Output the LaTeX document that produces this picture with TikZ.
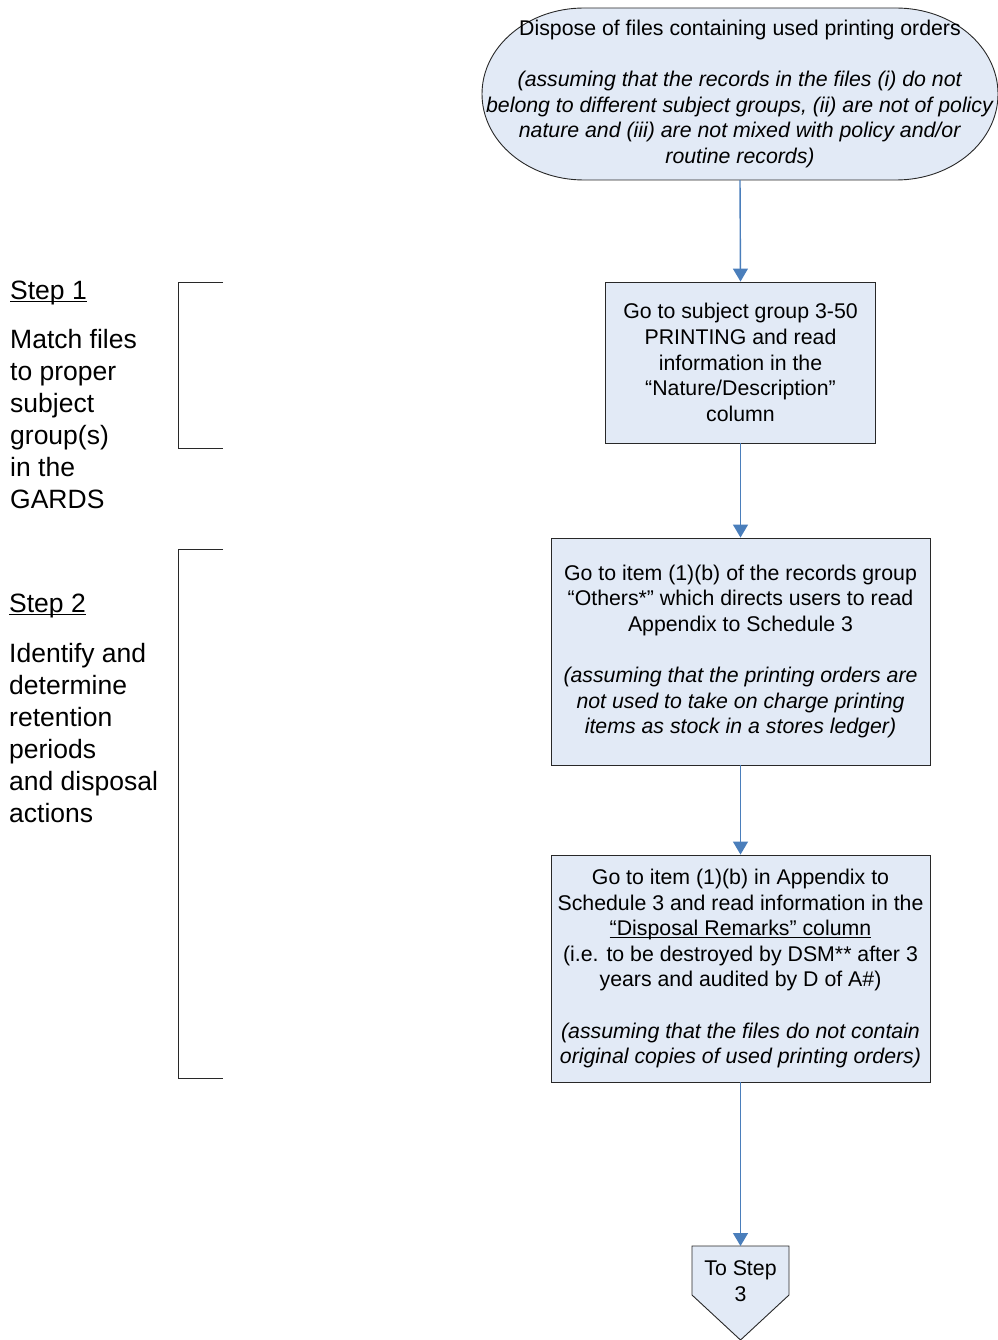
\documentclass[tikz,border=0pt]{standalone}
\usepackage{fontspec}
\setmainfont{Liberation Sans}
\usetikzlibrary{arrows.meta}
\definecolor{boxfill}{RGB}{226,234,246}
\definecolor{arrowblue}{RGB}{74,126,187}
\definecolor{edgecol}{RGB}{40,40,40}
\newcommand\myul[2]{\setbox0\hbox{#2}\rlap{\rule[-#1]{\wd0}{1.1pt}}\box0}
\begin{document}
\begin{tikzpicture}[x=1pt,y=1pt,
  box/.style={draw=edgecol, line width=0.9pt, fill=boxfill, align=center, inner sep=0pt,
    font=\fontsize{21.3}{25.6}\selectfont},
  flow/.style={draw=arrowblue, line width=1.4pt, -{Triangle[width=15pt,length=13pt]}},
  bracketline/.style={draw=edgecol, line width=1pt},
  side/.style={align=left, anchor=base west, inner sep=0pt, font=\fontsize{26.5}{32}\selectfont}]
\useasboundingbox (0,0) rectangle (997,-1340);

% start terminator
\path[draw=edgecol, line width=0.9pt, fill=boxfill]
  (584,-8) -- (896,-8)
  arc[start angle=90, end angle=-90, x radius=102, y radius=86]
  -- (584,-180)
  arc[start angle=270, end angle=90, x radius=102, y radius=86] -- cycle;
\node[minimum width=516pt, minimum height=172pt, inner sep=0pt, align=center,
  font=\fontsize{21.3}{25.6}\selectfont] (start) at (740,-94)
  {Dispose of files containing used printing orders\\[25.6pt]
   \textit{(assuming that the records in the files (i) do not}\\
   \textit{belong to different subject groups, (ii) are not of policy}\\
   \textit{nature and (iii) are not mixed with policy and/or}\\
   \textit{routine records)}};

\node[box, minimum width=270pt, minimum height=161pt] (b1) at (740.5,-362.5)
  {Go to subject group 3-50\\PRINTING and read\\information in the\\“Nature/Description”\\column};

\node[box, minimum width=379pt, minimum height=227pt] (b2) at (740.5,-651.5)
  {Go to item (1)(b) of the records group\\
   “Others*” which directs users to read\\
   Appendix to Schedule 3\\[25.6pt]
   \textit{(assuming that the printing orders are}\\
   \textit{not used to take on charge printing}\\
   \textit{items as stock in a stores ledger)}};

\node[box, minimum width=379pt, minimum height=227pt] (b3) at (740.5,-968.5)
  {Go to item (1)(b) in Appendix to\\
   Schedule 3 and read information in the\\
   \myul{2.8pt}{“Disposal Remarks” column}\\
   (i.e. to be destroyed by DSM** after 3\\
   years and audited by D of A\#)\\[25.6pt]
   \textit{(assuming that the files do not contain}\\
   \textit{original copies of used printing orders)}};

% To Step 3 pentagon
\path[draw=edgecol, line width=0.9pt, fill=boxfill]
  (692,-1246) -- (789,-1246) -- (789,-1295) -- (740.5,-1340) -- (692,-1295) -- cycle;
\coordinate (s3top) at (740.5,-1246);
\node[align=center, inner sep=0pt, font=\fontsize{21.3}{25.6}\selectfont] (s3) at (740.5,-1281) {To Step\\3};

% connectors
\draw[flow] (start.south) -- (b1.north);
\draw[flow] (b1.south) -- (b2.north);
\draw[flow] (b2.south) -- (b3.north);
\draw[flow] (b3.south) -- (s3top);

% brackets
\draw[bracketline] (223,-282) -- (178,-282) -- (178,-448) -- (223,-448);
\draw[bracketline] (223,-549) -- (178,-549) -- (178,-1078) -- (223,-1078);

% left side texts (base anchor = baseline of the last line)
\node[side] (h1) at (10,-299) {\myul{3.2pt}{Step 1}};
\node[side] (t1) at (10,-508) {Match files\\to proper\\subject\\group(s)\\in the\\GARDS};
\node[side] (h2) at (9,-612) {\myul{3.2pt}{Step 2}};
\node[side] (t2) at (9,-822) {Identify and\\determine\\retention\\periods\\and disposal\\actions};
\end{tikzpicture}
\end{document}
